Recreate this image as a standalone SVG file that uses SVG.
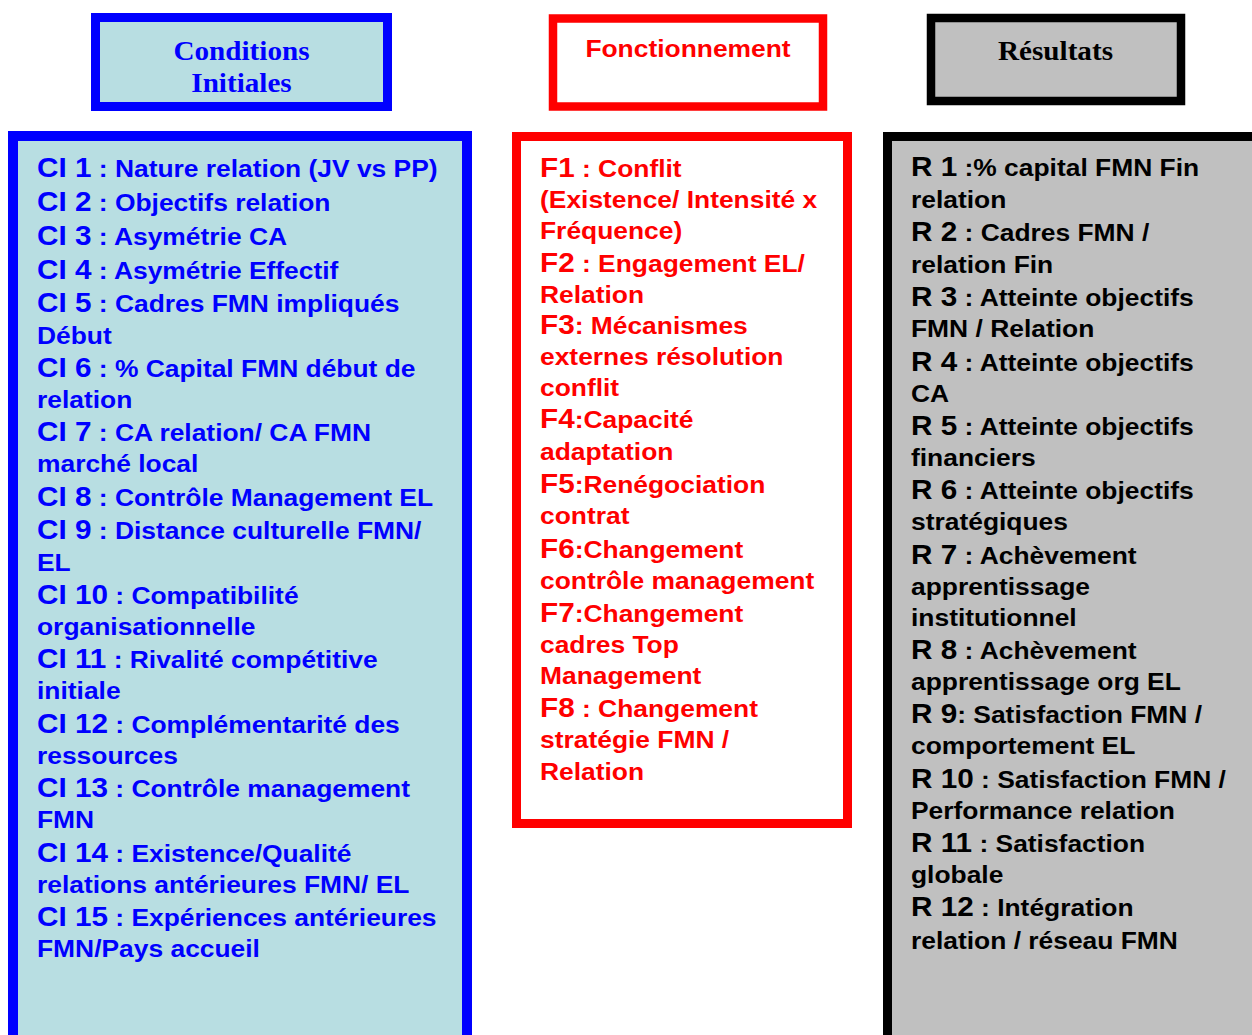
<svg xmlns="http://www.w3.org/2000/svg" width="1252" height="1035" viewBox="0 0 1252 1035">
  <style>
    .hdr { font-family: "Liberation Serif", "Times New Roman", serif; font-weight: bold; font-size: 26.5px; text-anchor: middle; }
    .hdr-sans { font-family: "Liberation Sans", Arial, sans-serif; font-weight: bold; font-size: 24px; text-anchor: middle; }
    .body { font-family: "Liberation Sans", Arial, sans-serif; font-weight: bold; font-size: 24px; }
    .key { font-size: 27px; }
    .blue { fill: #0000ff; }
    .red { fill: #ff0000; }
    .black { fill: #000000; }
  </style>

  <rect width="1252" height="1035" fill="#ffffff"/>

  <!-- column headers -->
  <g id="hdr-conditions">
    <rect x="95.5" y="17.5" width="292" height="89" fill="#b8dee2" stroke="#0000ff" stroke-width="9"/>
    <g transform="translate(241.5 0) scale(1.1 1)">
      <text class="hdr blue" x="0" y="60">Conditions</text>
      <text class="hdr blue" x="0" y="92">Initiales</text>
    </g>
  </g>

  <g id="hdr-fonctionnement">
    <rect x="553" y="18.5" width="270" height="88" fill="#ffffff" stroke="#ff0000" stroke-width="8.5"/>
    <text class="hdr-sans red" transform="translate(688 0) scale(1.1 1)" x="0" y="57">Fonctionnement</text>
  </g>

  <g id="hdr-resultats">
    <rect x="931" y="18" width="250" height="83" fill="#c0c0c0" stroke="#000000" stroke-width="8.5"/>
    <text class="hdr black" transform="translate(1055.5 0) scale(1.1 1)" x="0" y="60">Résultats</text>
  </g>

  <!-- initial conditions list -->
  <g id="col-conditions">
    <rect x="13" y="136" width="454" height="930" fill="#b8dee2" stroke="#0000ff" stroke-width="10"/>
    <g class="body blue" transform="translate(37 0) scale(1.1 1)">
      <text x="0" y="177"><tspan class="key">CI 1</tspan> : Nature relation (JV vs PP)</text>
      <text x="0" y="211"><tspan class="key">CI 2</tspan> : Objectifs relation</text>
      <text x="0" y="245"><tspan class="key">CI 3</tspan> : Asymétrie CA</text>
      <text x="0" y="279"><tspan class="key">CI 4</tspan> : Asymétrie Effectif</text>
      <text x="0" y="312"><tspan class="key">CI 5</tspan> : Cadres FMN impliqués</text>
      <text x="0" y="344">Début</text>
      <text x="0" y="377"><tspan class="key">CI 6</tspan> : % Capital FMN début de</text>
      <text x="0" y="408">relation</text>
      <text x="0" y="441"><tspan class="key">CI 7</tspan> : CA relation/ CA FMN</text>
      <text x="0" y="472">marché local</text>
      <text x="0" y="506"><tspan class="key">CI 8</tspan> : Contrôle Management EL</text>
      <text x="0" y="539"><tspan class="key">CI 9</tspan> : Distance culturelle FMN/</text>
      <text x="0" y="571">EL</text>
      <text x="0" y="604"><tspan class="key">CI 10</tspan> : Compatibilité</text>
      <text x="0" y="635">organisationnelle</text>
      <text x="0" y="668"><tspan class="key">CI 11</tspan> : Rivalité compétitive</text>
      <text x="0" y="699">initiale</text>
      <text x="0" y="733"><tspan class="key">CI 12</tspan> : Complémentarité des</text>
      <text x="0" y="764">ressources</text>
      <text x="0" y="797"><tspan class="key">CI 13</tspan> : Contrôle management</text>
      <text x="0" y="828">FMN</text>
      <text x="0" y="862"><tspan class="key">CI 14</tspan> : Existence/Qualité</text>
      <text x="0" y="893">relations antérieures FMN/ EL</text>
      <text x="0" y="926"><tspan class="key">CI 15</tspan> : Expériences antérieures</text>
      <text x="0" y="957">FMN/Pays accueil</text>
    </g>
  </g>

  <!-- functioning list -->
  <g id="col-fonctionnement">
    <rect x="516.5" y="136.5" width="331" height="687" fill="#ffffff" stroke="#ff0000" stroke-width="9"/>
    <g class="body red" transform="translate(540 0) scale(1.1 1)">
      <text x="0" y="177"><tspan class="key">F1</tspan> : Conflit</text>
      <text x="0" y="208">(Existence/ Intensité x</text>
      <text x="0" y="239">Fréquence)</text>
      <text x="0" y="272"><tspan class="key">F2</tspan> : Engagement EL/</text>
      <text x="0" y="303">Relation</text>
      <text x="0" y="334"><tspan class="key">F3</tspan>: Mécanismes</text>
      <text x="0" y="365">externes résolution</text>
      <text x="0" y="396">conflit</text>
      <text x="0" y="428"><tspan class="key">F4</tspan>:Capacité</text>
      <text x="0" y="460">adaptation</text>
      <text x="0" y="493"><tspan class="key">F5</tspan>:Renégociation</text>
      <text x="0" y="524">contrat</text>
      <text x="0" y="558"><tspan class="key">F6</tspan>:Changement</text>
      <text x="0" y="589">contrôle management</text>
      <text x="0" y="622"><tspan class="key">F7</tspan>:Changement</text>
      <text x="0" y="653">cadres Top</text>
      <text x="0" y="684">Management</text>
      <text x="0" y="717"><tspan class="key">F8</tspan> : Changement</text>
      <text x="0" y="748">stratégie FMN /</text>
      <text x="0" y="780">Relation</text>
    </g>
  </g>

  <!-- results list -->
  <g id="col-resultats">
    <rect x="887.5" y="136.5" width="420" height="930" fill="#c0c0c0" stroke="#000000" stroke-width="9"/>
    <g class="body black" transform="translate(911 0) scale(1.1 1)">
      <text x="0" y="176"><tspan class="key">R 1</tspan> :% capital FMN Fin</text>
      <text x="0" y="208">relation</text>
      <text x="0" y="241"><tspan class="key">R 2</tspan> : Cadres FMN /</text>
      <text x="0" y="273">relation Fin</text>
      <text x="0" y="306"><tspan class="key">R 3</tspan> : Atteinte objectifs</text>
      <text x="0" y="337">FMN / Relation</text>
      <text x="0" y="371"><tspan class="key">R 4</tspan> : Atteinte objectifs</text>
      <text x="0" y="402">CA</text>
      <text x="0" y="435"><tspan class="key">R 5</tspan> : Atteinte objectifs</text>
      <text x="0" y="466">financiers</text>
      <text x="0" y="499"><tspan class="key">R 6</tspan> : Atteinte objectifs</text>
      <text x="0" y="530">stratégiques</text>
      <text x="0" y="564"><tspan class="key">R 7</tspan> : Achèvement</text>
      <text x="0" y="595">apprentissage</text>
      <text x="0" y="626">institutionnel</text>
      <text x="0" y="659"><tspan class="key">R 8</tspan> : Achèvement</text>
      <text x="0" y="690">apprentissage org EL</text>
      <text x="0" y="723"><tspan class="key">R 9</tspan>: Satisfaction FMN /</text>
      <text x="0" y="754">comportement EL</text>
      <text x="0" y="788"><tspan class="key">R 10</tspan> : Satisfaction FMN /</text>
      <text x="0" y="819">Performance relation</text>
      <text x="0" y="852"><tspan class="key">R 11</tspan> : Satisfaction</text>
      <text x="0" y="883">globale</text>
      <text x="0" y="916"><tspan class="key">R 12</tspan> : Intégration</text>
      <text x="0" y="949">relation / réseau FMN</text>
    </g>
  </g>

  <g id="connectors"/>
</svg>
